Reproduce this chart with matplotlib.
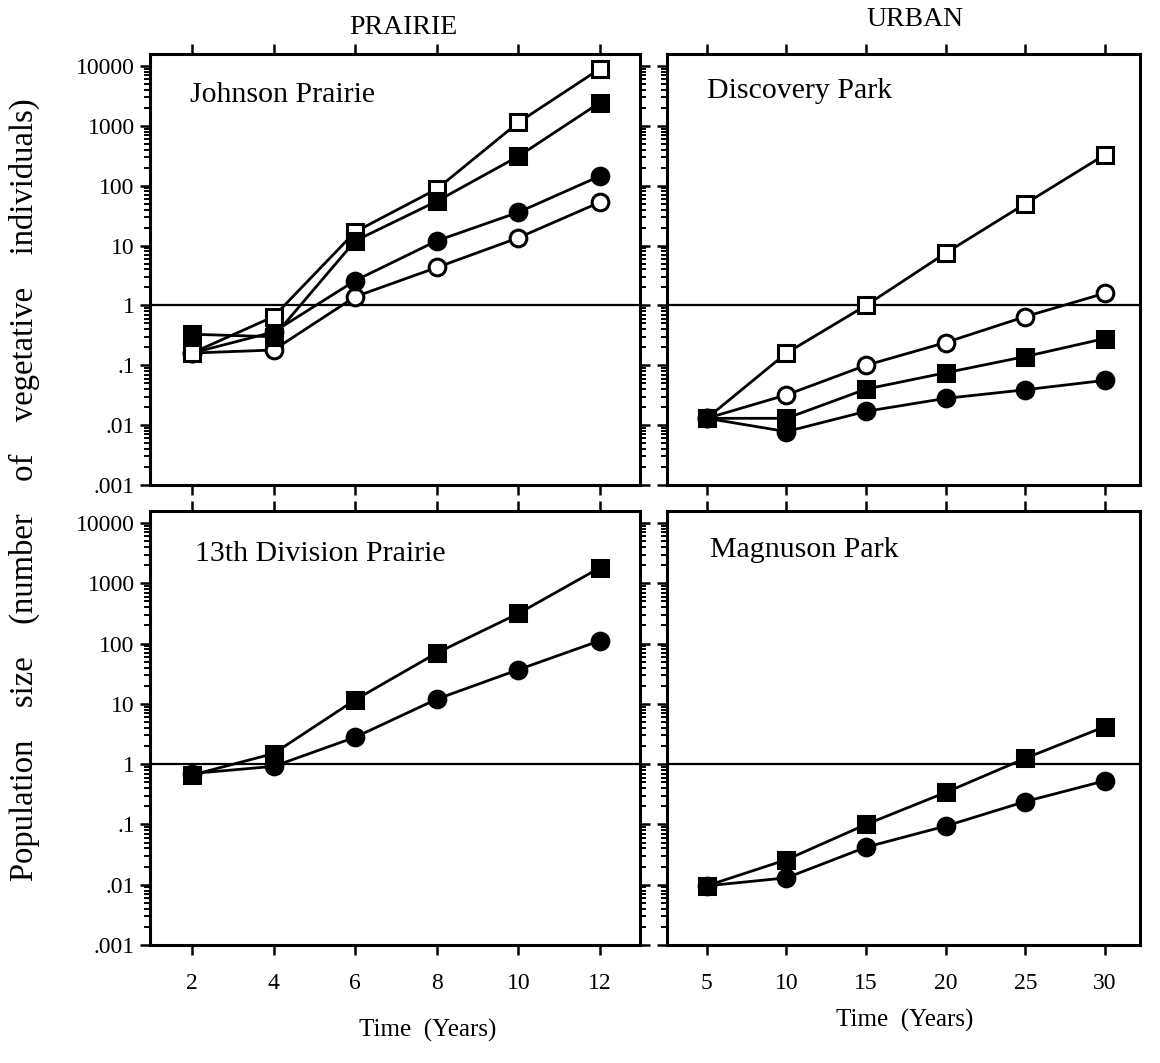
import matplotlib
matplotlib.use("Agg")
import matplotlib.pyplot as plt
from matplotlib.ticker import FixedLocator, LogLocator, NullFormatter

plt.rcParams['font.family'] = ['Liberation Serif', 'DejaVu Serif']

# prairie sites (years 2..12)
prairie_years = [2, 4, 6, 8, 10, 12]
johnson_open_sq = [0.16, 0.65, 17, 88, 1140, 9000]
johnson_filled_sq = [0.33, 0.30, 12, 55, 310, 2450]
johnson_filled_circ = [0.16, 0.36, 2.6, 12, 36, 145]
johnson_open_circ = [0.16, 0.18, 1.4, 4.3, 13.5, 53]

division_filled_sq = [0.66, 1.5, 11.7, 70, 316, 1820]
division_filled_circ = [0.70, 0.92, 2.8, 12, 37, 112]

# urban sites (years 5..30)
urban_years = [5, 10, 15, 20, 25, 30]
discovery_open_sq = [0.013, 0.16, 1.0, 7.5, 50, 330]
discovery_open_circ = [0.013, 0.032, 0.10, 0.24, 0.65, 1.6]
discovery_filled_sq = [0.013, 0.013, 0.040, 0.075, 0.14, 0.28]
discovery_filled_circ = [0.013, 0.0078, 0.017, 0.028, 0.039, 0.056]

magnuson_filled_sq = [0.0096, 0.026, 0.10, 0.34, 1.25, 4.2]
magnuson_filled_circ = [0.0096, 0.013, 0.042, 0.094, 0.24, 0.53]

y_ticks = [0.001, 0.01, 0.1, 1, 10, 100, 1000, 10000]
y_labels = ['.001', '.01', '.1', '1', '10', '100', '1000', '10000']

W, H = 1160, 1063
fig = plt.figure(figsize=(W / 100, H / 100), dpi=100)


def px_axes(left, top, right, bottom):
    return fig.add_axes([left / W, 1 - bottom / H, (right - left) / W, (bottom - top) / H])


ax_jp = px_axes(150, 54, 640, 485)
ax_dp = px_axes(667, 54, 1140, 485)
ax_dv = px_axes(150, 511, 640, 945)
ax_mp = px_axes(667, 511, 1140, 945)

style = dict(color='black', lw=2.0, markersize=12, markeredgewidth=2.2, clip_on=False)


def series(ax, x, y, marker, filled):
    ax.plot(x, y, marker=marker, markerfacecolor='black' if filled else 'white',
            markeredgecolor='black', **style)


series(ax_jp, prairie_years, johnson_open_circ, 'o', False)
series(ax_jp, prairie_years, johnson_filled_circ, 'o', True)
series(ax_jp, prairie_years, johnson_open_sq, 's', False)
series(ax_jp, prairie_years, johnson_filled_sq, 's', True)

series(ax_dp, urban_years, discovery_open_sq, 's', False)
series(ax_dp, urban_years, discovery_open_circ, 'o', False)
series(ax_dp, urban_years, discovery_filled_circ, 'o', True)
series(ax_dp, urban_years, discovery_filled_sq, 's', True)

series(ax_dv, prairie_years, division_filled_circ, 'o', True)
series(ax_dv, prairie_years, division_filled_sq, 's', True)

series(ax_mp, urban_years, magnuson_filled_circ, 'o', True)
series(ax_mp, urban_years, magnuson_filled_sq, 's', True)

for ax in [ax_jp, ax_dp, ax_dv, ax_mp]:
    ax.set_yscale('log')
    ax.set_ylim(0.001, 10 ** 4.2)
    ax.axhline(1, color='black', lw=1.6, zorder=1)
    for s in ax.spines.values():
        s.set_linewidth(2.2)
    ax.yaxis.set_major_locator(FixedLocator(y_ticks))
    ax.yaxis.set_minor_locator(LogLocator(base=10, subs=range(2, 10), numticks=20))
    ax.yaxis.set_minor_formatter(NullFormatter())
    ax.tick_params(which='major', direction='out', length=7, width=1.8, labelsize=17)
    ax.tick_params(which='minor', direction='out', length=4, width=1.4)
    ax.tick_params(axis='x', top=True, pad=13)
    ax.tick_params(axis='y', pad=4)

for ax in [ax_jp, ax_dv]:
    ax.set_xlim(0.97, 12.98)
    ax.set_xticks(prairie_years)
    ax.tick_params(axis='y', which='both', left=True, right=True)
    ax.set_yticklabels(y_labels)

for ax in [ax_dp, ax_mp]:
    ax.set_xlim(2.5, 32.2)
    ax.set_xticks(urban_years)
    ax.tick_params(axis='y', which='both', left=True, right=False, labelleft=False)

for ax in [ax_jp, ax_dp]:
    ax.tick_params(axis='x', labelbottom=False)

ax_jp.text(0.082, 0.905, 'Johnson Prairie', transform=ax_jp.transAxes, fontsize=21.5, va='center')
ax_dp.text(0.085, 0.915, 'Discovery Park', transform=ax_dp.transAxes, fontsize=21.5, va='center')
ax_dv.text(0.092, 0.9, '13th Division Prairie', transform=ax_dv.transAxes, fontsize=21.5, va='center')
ax_mp.text(0.091, 0.91, 'Magnuson Park', transform=ax_mp.transAxes, fontsize=21.5, va='center')

fig.text(403 / W, 1 - 27 / H, 'PRAIRIE', fontsize=20, ha='center', va='center')
fig.text(915 / W, 1 - 19 / H, 'URBAN', fontsize=20, ha='center', va='center')
fig.text(428 / W, 1 - 1030 / H, 'Time  (Years)', fontsize=18, ha='center', va='center')
fig.text(905 / W, 1 - 1020 / H, 'Time  (Years)', fontsize=18, ha='center', va='center')
fig.text(24 / W, 1 - 490 / H, 'Population    size    (number    of    vegetative    individuals)',
         fontsize=23.5, rotation=90, ha='center', va='center')

fig.savefig('out.png', dpi=100)
